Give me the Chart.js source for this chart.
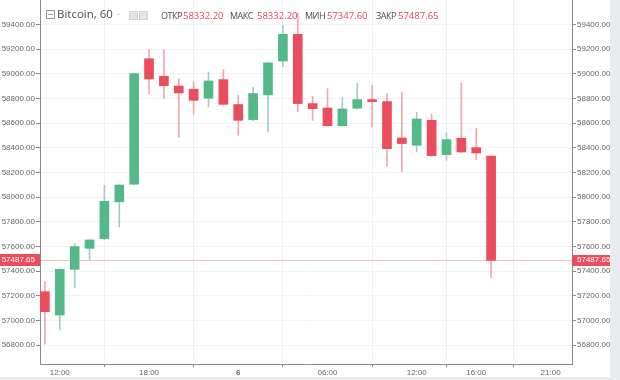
<!DOCTYPE html>
<html><head><meta charset="utf-8">
<script src="https://cdn.jsdelivr.net/npm/chart.js@4/dist/chart.umd.min.js"></script>
<style>
html,body{margin:0;padding:0;background:#e9ecef;}
#wrap{position:relative;width:610px;height:377px;background:#fff;overflow:hidden;}
#c{position:absolute;left:0;top:0;}
.h{position:absolute;font-family:"Open Sans",sans-serif;white-space:nowrap;line-height:1;}
.lbl{font-size:9px;color:#4a4a4a;top:11px;letter-spacing:-0.5px;}
.val{font-size:9.5px;color:#e0475a;top:11px;}
.sq{position:absolute;width:7px;height:7px;border:1px solid #d3d3d3;background:#e4e4e4;top:11px;}
</style></head>
<body>
<div id="wrap">
<canvas id="c" width="610" height="377"></canvas>
<div class="h" style="left:46px;top:10px;width:7px;height:7px;border:1px solid #9a9a9a;"><div style="position:absolute;left:1px;top:3px;width:5px;height:1px;background:#9a9a9a"></div></div>
<div class="h" style="left:57px;top:8px;font-size:11.5px;color:#4a4a4a;">Bitcoin, 60</div>
<div class="h" style="left:117px;top:9px;font-size:9px;color:#b0b0b0;">-</div>
<div class="sq" style="left:129px;"></div>
<div class="sq" style="left:139px;"></div>
<div class="h lbl" style="left:161px;">ОТКР</div>
<div class="h val" id="v1" style="left:183px;"></div>
<div class="h lbl" style="left:230px;">МАКС</div>
<div class="h val" id="v2" style="left:257px;"></div>
<div class="h lbl" style="left:305px;">МИН</div>
<div class="h val" id="v3" style="left:327px;"></div>
<div class="h lbl" style="left:376px;">ЗАКР</div>
<div class="h val" id="v4" style="left:398px;"></div>
</div>
<script>
// ---- data ----
const candleHours = [11,12,13,14,15,16,17,18,19,20,21,22,23,24,25,26,27,28,29,30,31,32,33,34,35,36,37,38,39,40,41];
const opens  = [57234,57045,57415,57585,57664,57962,58104,59121,58979,58900,58874,58801,58952,58750,58628,58828,59103,59319,58758,58722,58579,58720,58790,58774,58479,58420,58622,58344,58477,58401,58332.20];
const highs  = [57315,57420,57624,57655,58096,58100,59003,59195,59195,58960,58933,59014,59033,58825,58887,59090,59392,59489,58817,58879,58806,58920,58906,58839,58852,58687,58671,58520,58925,58555,58332.20];
const lows   = [56808,56924,57264,57494,57655,57758,58100,58839,58798,58482,58671,58730,58745,58501,58622,58528,59054,58690,58622,58572,58575,58715,58568,58250,58204,58366,58330,58298,58360,58304,57347.60];
const closes = [57072,57415,57599,57653,57966,58098,59000,58957,58903,58844,58784,58941,58752,58622,58839,59088,59319,58758,58717,58579,58714,58790,58774,58393,58434,58633,58336,58466,58366,58358,57487.65];
const yTicks = [56800,57000,57200,57400,57600,57800,58000,58200,58400,58600,58800,59000,59200,59400];
const xTickHours = [12,18,24,30,36,40,45];
const xTickLabels = ["12:00","18:00","6","06:00","12:00","16:00","21:00"];
const lastPrice = 57487.65;
const headerValues = ["58332.20","58332.20","57347.60","57487.65"];
const yMin = 56648, yMax = 59597, xMin = 10.67, xMax = 46.44;
// ---- end data ----

headerValues.forEach((v,i)=>{document.getElementById('v'+(i+1)).textContent=v;});

const UP='#53b987', DOWN='#eb4d5c', UPW='#a8c9cc', DOWNW='#f3a6b0';
const isUp = i => closes[i] >= opens[i];

const bodies = candleHours.map((h,i)=>({x:h, y:[opens[i], closes[i]]}));
const wicks  = candleHours.map((h,i)=>({x:h, y:[lows[i], highs[i]]}));

const priceLine = {
  id:'priceLine',
  beforeDatasetsDraw(chart){
    const {ctx, chartArea:a, scales:{y}} = chart;
    const py = Math.round(y.getPixelForValue(lastPrice)) + 0.5;
    ctx.save(); ctx.strokeStyle='rgba(235,77,92,0.35)'; ctx.lineWidth=1;
    ctx.beginPath(); ctx.moveTo(a.left, py); ctx.lineTo(a.right, py); ctx.stroke(); ctx.restore();
  },
  afterDraw(chart){
    const {ctx, chartArea:a, scales:{y}} = chart;
    const py = Math.round(y.getPixelForValue(lastPrice));
    ctx.save();
    ctx.fillStyle='#eb4d5c';
    ctx.fillRect(0, py-6, a.left, 12);
    ctx.fillRect(a.right, py-5, chart.width - a.right, 11);
    ctx.fillStyle='#fff'; ctx.font='8px "Liberation Sans", Arial, sans-serif'; ctx.textBaseline='middle';
    ctx.textAlign='right'; ctx.fillText(lastPrice.toFixed(2), a.left-5, py);
    ctx.textAlign='left'; ctx.fillText(lastPrice.toFixed(2), a.right+5, py);
    ctx.restore();
  }
};

const tickFont = {size:8, family:'"Liberation Sans", Arial, sans-serif'};
const yAxis = (pos) => ({
  type:'linear', position:pos, min:yMin, max:yMax,
  afterBuildTicks: s => { s.ticks = yTicks.map(v=>({value:v})); },
  afterFit: s => { s.width = pos==='left' ? 40 : 38; s.paddingTop=0; s.paddingBottom=0; },
  ticks:{callback:v=>Number(v).toFixed(2), font:tickFont, color:'#666', padding:1, autoSkip:false},
  grid:{color:'#f1f3f5', tickLength:4, tickColor:'#888', drawOnChartArea: pos==='left'},
  border:{color:'#8a8a8a'}
});

new Chart(document.getElementById('c'), {
  type:'bar',
  data:{datasets:[
    {data:bodies, yAxisID:'y', order:0, grouped:false, barThickness:9, borderWidth:0,
     backgroundColor: ctx => isUp(ctx.dataIndex) ? UP : DOWN},
    {data:wicks, yAxisID:'y', order:1, grouped:false, barThickness:1, borderWidth:0,
     backgroundColor: ctx => isUp(ctx.dataIndex) ? UPW : DOWNW}
  ]},
  options:{
    responsive:false, animation:false, devicePixelRatio:1,
    layout:{padding:0},
    plugins:{legend:{display:false}, tooltip:{enabled:false}},
    scales:{
      x:{type:'linear', min:xMin, max:xMax, offset:false,
         afterBuildTicks: s => { s.ticks = xTickHours.map(v=>({value:v})); },
         afterFit: s => { s.height = 13; s.paddingLeft=0; s.paddingRight=0; },
         ticks:{callback:(v,i)=>xTickLabels[i], font:c => ({size:8, family:tickFont.family, weight: xTickLabels[c.index]==='6' ? 'bold':'normal'}), color:'#666', padding:1, maxRotation:0, autoSkip:false},
         grid:{color:'#eef1f4', tickLength:3, tickColor:'#888'},
         border:{color:'#8a8a8a'}},
      y: yAxis('left'),
      y2: yAxis('right')
    }
  },
  plugins:[priceLine]
});
</script>
</body></html>
